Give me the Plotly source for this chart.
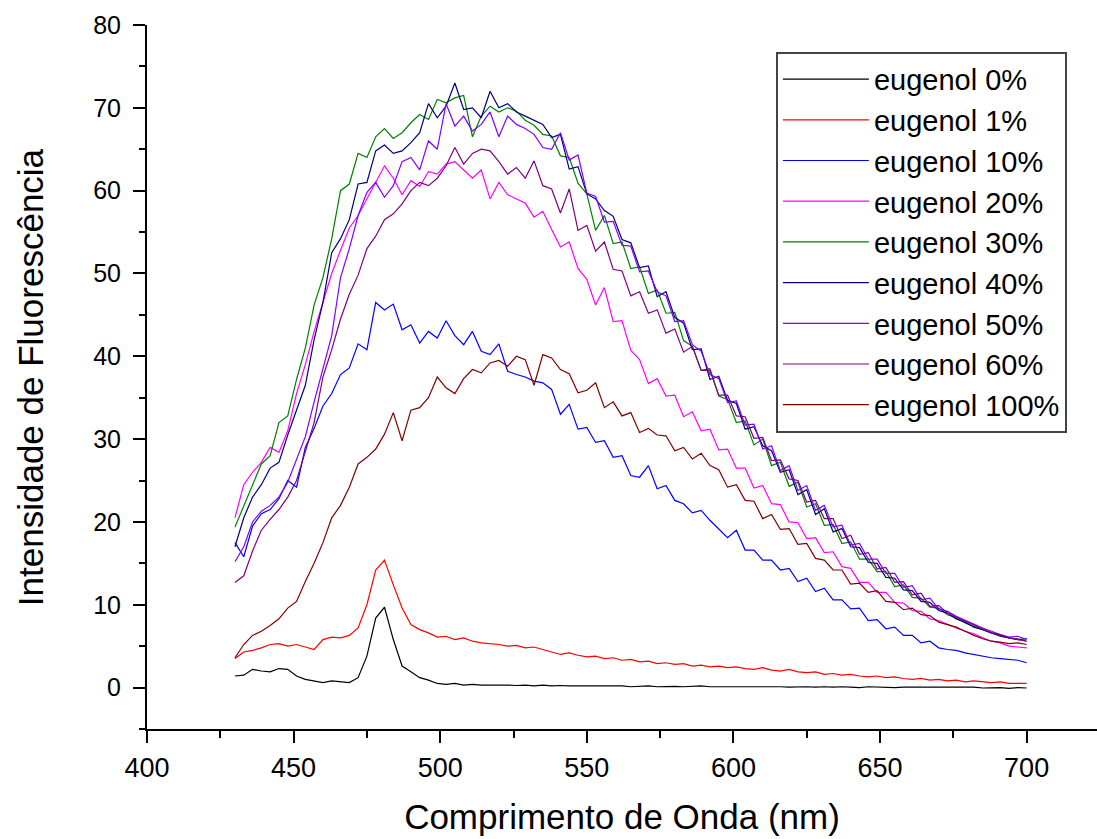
import plotly.graph_objects as go

wavelength = [430, 433, 436, 439, 442, 445, 448, 451, 454, 457, 460, 463, 466, 469, 472, 475, 478, 481, 484, 487,
              490, 493, 496, 499, 502, 505, 508, 511, 514, 517, 520, 523, 526, 529, 532, 535, 538, 541, 544, 547,
              550, 553, 556, 559, 562, 565, 568, 571, 574, 577, 580, 583, 586, 589, 592, 595, 598, 601, 604, 607,
              610, 613, 616, 619, 622, 625, 628, 631, 634, 637, 640, 643, 646, 649, 652, 655, 658, 661, 664, 667,
              670, 673, 676, 679, 682, 685, 688, 691, 694, 697, 700]

eugenol_0 = [1.4, 1.5, 2.2, 2.0, 1.9, 2.3, 2.2, 1.4, 1.0, 0.8, 0.6, 0.8, 0.7, 0.6, 1.2, 3.8, 8.4, 9.7, 5.8, 2.6,
             1.9, 1.2, 0.9, 0.5, 0.4, 0.5, 0.3, 0.4, 0.3, 0.3, 0.35, 0.3, 0.25, 0.3, 0.2, 0.3, 0.2, 0.25, 0.2, 0.2,
             0.15, 0.2, 0.2, 0.15, 0.2, 0.1, 0.15, 0.2, 0.1, 0.15, 0.15, 0.1, 0.15, 0.2, 0.1, 0.1, 0.15, 0.1, 0.1, 0.15,
             0.1, 0.1, 0.1, 0.05, 0.1, 0.1, 0.05, 0.1, 0.05, 0.1, 0.05, 0.0, 0.1, 0.05, 0.05, 0.0, 0.05, 0.05, 0.0, 0.05,
             0.0, 0.05, 0.0, 0.0, 0.05, -0.05, 0.0, 0.0, -0.1, 0.0, -0.05]

eugenol_1 = [3.5, 4.3, 4.5, 4.8, 5.2, 5.3, 5.0, 5.2, 4.9, 4.6, 5.8, 6.1, 6.0, 6.3, 7.2, 10.0, 14.2, 15.4, 12.4, 9.6,
             7.6, 7.0, 6.6, 6.1, 6.2, 5.8, 6.0, 5.6, 5.4, 5.3, 5.2, 5.0, 5.1, 4.8, 4.9, 4.6, 4.3, 4.0, 4.2, 3.9,
             3.7, 3.8, 3.5, 3.6, 3.3, 3.4, 3.1, 3.2, 2.9, 3.0, 2.8, 2.9, 2.6, 2.7, 2.5, 2.6, 2.4, 2.5, 2.3, 2.2,
             2.4, 2.1, 2.0, 2.2, 1.9, 1.8, 1.9, 1.6, 1.7, 1.5, 1.6, 1.4, 1.3, 1.4, 1.2, 1.3, 1.1, 1.0, 1.1, 0.9,
             1.0, 0.8, 0.9, 0.7, 0.8, 0.7, 0.6, 0.7, 0.5, 0.5, 0.5]

eugenol_10 = [17.5, 15.8, 19.5, 21.0, 21.5, 22.8, 25.0, 24.2, 29.0, 31.3, 34.0, 35.5, 37.8, 38.6, 41.5, 40.8, 46.5, 45.6, 46.3, 43.2,
              43.8, 41.6, 43.0, 42.2, 44.3, 42.5, 41.4, 43.0, 40.6, 40.2, 41.5, 38.2, 37.8, 37.5, 37.0, 36.8,
              36.0, 33.0, 34.2, 31.2, 31.4, 29.6, 29.8, 27.8, 28.0, 25.6, 25.4, 26.8, 24.0, 24.4, 22.6, 22.2, 21.1, 21.4, 20.2,
              19.2, 18.1, 19.0, 16.6, 16.6, 15.4, 15.4, 14.2, 14.4, 12.8, 13.2, 11.6, 12.0, 10.6, 10.6, 9.5, 9.6, 8.1, 8.2, 7.1,
              7.3, 6.3, 6.3, 5.4, 5.6, 4.8,
              4.6, 4.5, 4.2, 4.0, 3.8, 3.6, 3.5, 3.4, 3.3, 3.0]

eugenol_20 = [20.5, 24.5, 26.0, 27.2, 29.0, 28.4, 31.0, 35.5, 39.0, 43.0, 46.5, 50.0, 52.8, 55.5, 57.0, 59.0, 61.0, 63.0, 61.5, 59.5,
              61.2, 60.5, 62.3, 62.0, 63.2, 63.5, 62.5, 61.5, 62.5, 59.0, 61.0, 59.5, 59.0, 58.5, 56.8, 57.5,
              55.3, 53.2, 53.8, 50.6, 49.3, 46.2, 48.3, 44.2, 44.3, 40.7, 39.6, 36.7, 37.3, 35.2, 35.3,
              32.7, 33.3, 31.0, 31.2, 28.7, 28.8, 26.5, 26.5, 24.1, 24.4, 22.2, 22.1, 20.0, 19.9, 18.0,
              18.1, 16.3, 16.4, 14.6, 14.4, 12.7, 12.7, 11.5, 11.5, 10.3, 10.2, 9.3, 9.2, 8.3, 8.1,
              7.6, 7.2, 6.8, 6.5, 6.0, 5.6, 5.4, 5.0, 4.9, 4.8]

eugenol_30 = [19.4, 22.0, 24.5, 27.0, 28.0, 32.0, 32.8, 37.2, 41.0, 46.2, 49.5, 54.2, 60.0, 60.8, 64.5, 64.0, 66.5, 67.5, 66.3, 67.0,
              68.2, 69.2, 68.6, 71.0, 70.6, 71.2, 71.5, 66.5, 69.0, 70.2, 69.5, 70.0, 69.6, 68.5, 67.9, 66.8,
              66.6, 64.2, 64.0, 60.9, 59.6, 55.2, 57.0, 53.6, 53.8, 50.6, 50.8, 47.6, 48.0, 45.2, 45.3,
              41.9, 41.2, 38.3, 38.5, 35.2, 34.8, 32.0, 32.2, 29.3, 30.0, 26.8, 27.2, 24.3, 24.8, 21.8,
              22.2, 19.6, 19.7, 17.4, 17.6, 15.5, 15.5, 14.0, 14.0, 12.2, 12.4, 10.9, 10.8, 9.7, 9.6,
              8.8, 8.4, 7.8, 7.4, 7.0, 6.6, 6.3, 6.0, 5.9, 5.6]

eugenol_40 = [17.0, 20.5, 23.0, 24.5, 26.5, 27.2, 30.5, 33.5, 36.5, 42.0, 46.5, 52.5, 54.2, 56.5, 60.8, 61.0, 64.8, 65.5, 64.5, 64.8,
              65.8, 67.0, 70.5, 68.8, 70.2, 73.0, 69.8, 70.0, 68.8, 72.0, 70.0, 70.5, 69.5, 69.0, 68.5, 68.0,
              66.4, 66.8, 62.6, 62.9, 59.6, 59.0, 57.6, 56.9, 54.1, 53.7, 50.7, 50.9, 47.2, 47.8, 44.7,
              44.0, 40.8, 40.9, 37.2, 37.6, 34.7, 34.3, 31.2, 31.5, 29.2, 28.6, 26.0, 26.3, 23.3, 23.9,
              20.9, 21.6, 18.8, 19.2, 17.0, 16.9, 15.1, 15.0, 13.3, 13.2, 11.8, 11.7, 10.4, 10.3, 9.3,
              9.0, 8.3, 7.9, 7.3, 7.0, 6.6, 6.2, 6.0, 5.8, 5.9]

eugenol_50 = [15.2, 17.0, 20.0, 21.3, 22.0, 23.0, 24.8, 27.5, 30.3, 34.5, 38.5, 42.5, 49.5, 53.0, 57.0, 59.8, 61.0, 59.2, 60.6, 63.5,
              64.0, 62.5, 66.0, 65.0, 70.5, 67.8, 69.0, 67.2, 68.0, 69.5, 66.5, 69.0, 68.0, 67.5, 66.8, 65.2,
              65.0, 67.0, 63.7, 64.3, 59.7, 59.3, 56.2, 56.3, 53.4, 53.3, 50.2, 50.3, 47.8, 47.3, 44.2,
              44.3, 41.4, 40.6, 37.8, 37.3, 34.4, 34.6, 31.7, 31.8, 28.8, 29.2, 26.2, 26.8, 23.8, 24.4,
              21.4, 22.0, 19.4, 19.6, 17.2, 17.4, 15.5, 15.5, 13.8, 13.8, 12.1, 12.3, 10.6, 10.8, 9.5,
              9.2, 8.6, 8.1, 7.6, 7.2, 6.8, 6.4, 6.1, 6.2, 5.8]

eugenol_60 = [12.7, 13.5, 16.5, 19.0, 20.3, 21.5, 23.0, 25.0, 28.5, 32.0, 37.5, 40.8, 44.5, 47.5, 49.8, 53.0, 54.5, 56.5, 57.2, 58.4,
              60.0, 61.0, 60.6, 61.5, 63.0, 65.2, 63.2, 64.5, 65.0, 64.8, 63.5, 62.0, 62.8, 61.5, 63.6, 60.6,
              60.2, 57.3, 60.2, 55.2, 55.8, 52.7, 53.8, 50.5, 50.3, 47.3, 47.8, 45.2, 45.6, 42.8, 43.3,
              40.5, 41.2, 38.3, 38.3, 35.3, 35.3, 32.8, 32.7, 30.1, 30.2, 27.4, 27.5, 25.2, 25.0, 22.4,
              22.6, 20.4, 20.4, 18.0, 18.4, 16.1, 16.3, 14.3, 14.5, 12.7, 12.8, 11.2, 11.4, 9.8, 9.9,
              9.0, 8.5, 8.0, 7.5, 7.0, 6.6, 6.4, 6.0, 5.8, 5.6]

eugenol_100 = [3.6, 5.2, 6.3, 6.8, 7.5, 8.3, 9.6, 10.4, 12.8, 15.0, 17.5, 20.5, 22.0, 24.2, 27.0, 27.8, 28.8, 30.6, 33.2, 29.8,
               33.5, 33.8, 35.0, 37.5, 36.2, 35.5, 37.3, 38.4, 38.0, 39.2, 39.5, 38.8, 40.0, 39.6, 36.5, 40.2,
               39.8, 38.4, 37.9, 35.6, 35.9, 36.8, 33.8, 34.5, 32.8, 33.2, 30.8, 31.3, 30.5, 30.4, 28.6,
               29.0, 27.6, 28.3, 26.8, 26.3, 24.2, 24.5, 22.6, 22.5, 20.4, 20.9, 19.1, 19.2, 17.3, 17.4,
               15.6, 15.4, 14.2, 14.2, 12.5, 12.6, 11.5, 11.7, 10.4, 10.3, 9.4, 9.6, 8.8, 8.7, 7.9,
               7.6, 7.3, 6.8, 6.3, 5.9, 5.6, 5.5, 5.3, 5.4, 5.2]

series_names = ["eugenol 0%", "eugenol 1%", "eugenol 10%", "eugenol 20%", "eugenol 30%",
                "eugenol 40%", "eugenol 50%", "eugenol 60%", "eugenol 100%"]
series_values = [eugenol_0, eugenol_1, eugenol_10, eugenol_20, eugenol_30,
                 eugenol_40, eugenol_50, eugenol_60, eugenol_100]
series_colors = ["#000000", "#FF0000", "#0000FF", "#FF00FF", "#008000",
                 "#000080", "#8000FF", "#800080", "#800000"]

x_tick_vals = [400, 450, 500, 550, 600, 650, 700]
y_tick_vals = [0, 10, 20, 30, 40, 50, 60, 70, 80]

x_title = "Comprimento de Onda (nm)"
y_title = "Intensidade de Fluorescência"

FONT = "Arial, 'Liberation Sans', sans-serif"

fig = go.Figure()
for name, vals, col in zip(series_names, series_values, series_colors):
    n = min(len(wavelength), len(vals))
    fig.add_trace(go.Scatter(x=wavelength[:n], y=vals[:n], mode="lines", name=name,
                             line=dict(color=col, width=1.2)))

fig.update_layout(
    width=1097, height=839,
    margin=dict(l=147, r=0, t=25, b=110, autoexpand=False),
    paper_bgcolor="white", plot_bgcolor="white",
    font=dict(family=FONT, color="black"),
    legend=dict(
        x=0.662, xanchor="left", y=0.962, yanchor="top",
        bgcolor="white", bordercolor="#444444", borderwidth=2,
        font=dict(family=FONT, size=29, color="black"),
        itemwidth=86,
        tracegroupgap=0,
    ),
    annotations=[dict(
        text=y_title, textangle=-90, xref="paper", yref="paper",
        x=-0.123, y=0.5, xanchor="center", yanchor="middle", showarrow=False,
        font=dict(family=FONT, size=35, color="black"),
    )],
)
fig.update_xaxes(
    range=[400, 724], showgrid=False, zeroline=False,
    showline=True, linecolor="black", linewidth=2,
    tickmode="array", tickvals=x_tick_vals, ticktext=[str(v) for v in x_tick_vals],
    ticks="outside", ticklen=12, tickwidth=2, tickcolor="black",
    minor=dict(ticks="outside", ticklen=7, tickwidth=2, tickcolor="black", dtick=25, tick0=400),
    tickfont=dict(family=FONT, size=27, color="black"),
    ticklabelstandoff=2,
    title=dict(text=x_title, font=dict(family=FONT, size=35, color="black"), standoff=22),
)
fig.update_yaxes(
    range=[-5, 80], showgrid=False, zeroline=False,
    showline=True, linecolor="black", linewidth=2,
    tickmode="array", tickvals=y_tick_vals, ticktext=[str(v) for v in y_tick_vals],
    ticks="outside", ticklen=12, tickwidth=2, tickcolor="black",
    minor=dict(ticks="outside", ticklen=6, tickwidth=2, tickcolor="black", dtick=5, tick0=-5),
    tickfont=dict(family=FONT, size=25, color="black"),
    ticklabelstandoff=7,
)

fig.write_html(
    "out.html",
    config={"displayModeBar": False},
    post_script="document.body.style.margin='0';document.body.style.overflow='hidden';",
)
